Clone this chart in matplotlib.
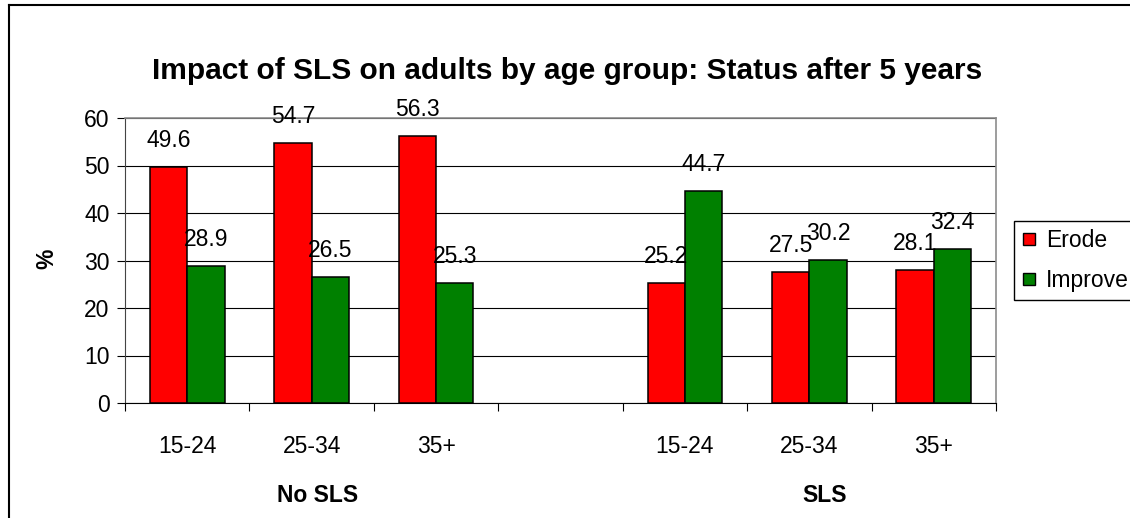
import numpy as np
import matplotlib.pyplot as plt
from matplotlib.lines import Line2D
import matplotlib.transforms as mtransforms

plt.rcParams['font.family'] = ['Liberation Sans', 'DejaVu Sans']

# age groups for each status, with an empty slot between the two groups
age_labels = ['15-24', '25-34', '35+', '', '15-24', '25-34', '35+']
group_names = ['No SLS', 'SLS']
erode = [49.6, 54.7, 56.3, None, 25.2, 27.5, 28.1]
improve = [28.9, 26.5, 25.3, None, 44.7, 30.2, 32.4]

FS = 16.5

fig = plt.figure(figsize=(11.3, 5.18), dpi=100)
ax = fig.add_axes([125 / 1130, 1 - 403 / 518, 871 / 1130, 285 / 518])

x = np.arange(len(age_labels))
w = 0.3
for vals, off, col in [(erode, -w / 2, '#FF0000'), (improve, w / 2, '#008000')]:
    xs = [xi + off for xi, v in zip(x, vals) if v is not None]
    vs = [v for v in vals if v is not None]
    bars = ax.bar(xs, vs, width=w, color=col, edgecolor='black', linewidth=1.1, zorder=3)
    for b, v in zip(bars, vs):
        ax.annotate(f'{v:.1f}', (b.get_x() + b.get_width() / 2, v),
                    xytext=(0, 14.4), textcoords='offset points',
                    ha='center', va='baseline', fontsize=FS, zorder=4)

ax.set_xlim(-0.5, len(age_labels) - 0.5)
ax.set_ylim(0, 60)
ax.set_yticks(range(0, 61, 10))
ax.yaxis.grid(True, color='black', linewidth=0.8, zorder=0)
ax.set_axisbelow(True)

# tick marks on category boundaries, labels at category centres
ax.set_xticks(np.arange(-0.5, len(age_labels), 1.0))
ax.set_xticklabels([])
ax.set_xticks(x, minor=True)
ax.set_xticklabels(age_labels, minor=True)
ax.tick_params(axis='x', which='major', length=6, width=0.8, direction='out')
ax.tick_params(axis='x', which='minor', length=0, pad=23, labelsize=FS)
ax.tick_params(axis='y', length=6, width=0.8, pad=5, labelsize=FS)

for s in ['top', 'right']:
    ax.spines[s].set_color('#8c8c8c')
    ax.spines[s].set_linewidth(1.2)
ax.spines['left'].set_color('#444444')
ax.spines['bottom'].set_color('black')

trans = mtransforms.blended_transform_factory(ax.transData, ax.transAxes)
ax.text(1.05, -0.325, group_names[0], transform=trans, ha='center', va='center',
        fontsize=FS, fontweight='bold')
ax.text(5.12, -0.325, group_names[1], transform=trans, ha='center', va='center',
        fontsize=FS, fontweight='bold')

fig.text(47 / 1130, 1 - 259 / 518, '%', rotation=90, ha='center', va='center',
         fontsize=FS, fontweight='bold')
fig.text(567 / 1130, 1 - 71 / 518, 'Impact of SLS on adults by age group: Status after 5 years',
         ha='center', va='center', fontsize=21.5, fontweight='bold')

handles = [Line2D([], [], marker='s', ls='', mfc='#FF0000', mec='black', ms=9, mew=1),
           Line2D([], [], marker='s', ls='', mfc='#008000', mec='black', ms=9, mew=1)]
leg = fig.legend(handles, ['Erode', 'Improve'], loc='upper left',
                 bbox_to_anchor=(1014 / 1130, 1 - 221 / 518), fontsize=FS,
                 frameon=True, fancybox=False, edgecolor='black', framealpha=1,
                 handlelength=0.6, handletextpad=0.45, labelspacing=0.72,
                 borderpad=0.36, borderaxespad=0)
leg.get_frame().set_linewidth(1.0)

# outer chart frame (top and left edges fall inside the image)
fx, fy = 8.5 / 1130, 1 - 5 / 518
fig.add_artist(Line2D([fx, 1.0], [fy, fy], transform=fig.transFigure, color='black', lw=1.5))
fig.add_artist(Line2D([fx, fx], [0.0, fy], transform=fig.transFigure, color='black', lw=1.5))

fig.savefig('out.png', dpi=100)
